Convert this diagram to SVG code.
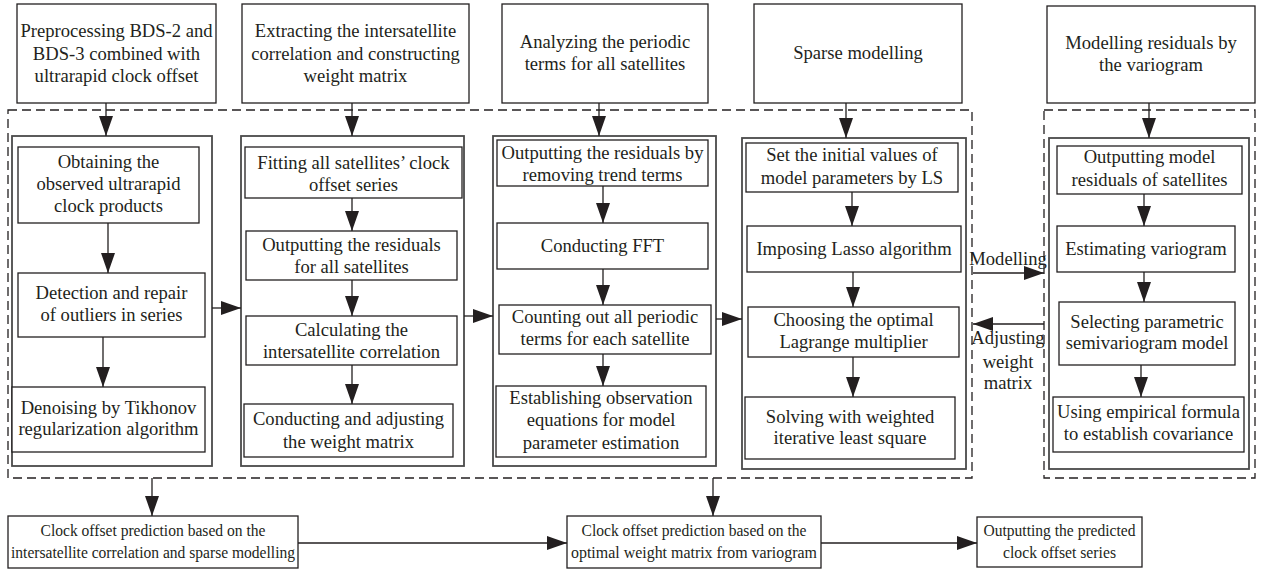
<svg xmlns="http://www.w3.org/2000/svg" width="1261" height="569" viewBox="0 0 1261 569">
<style>
.b{fill:#fff;stroke:#231f20;stroke-width:1.3}
.g{fill:none;stroke:#4a4a4a;stroke-width:1.8}
.d{fill:none;stroke:#231f20;stroke-width:1.3;stroke-dasharray:9,5}
.c{fill:none;stroke:#231f20;stroke-width:1.3;marker-end:url(#ah)}
text{font-family:"Liberation Serif","Times New Roman",serif;font-size:18.6px;fill:#231f20;text-anchor:middle}
text.s{font-size:16.6px}
</style>
<defs>
<marker id="ah" markerUnits="userSpaceOnUse" markerWidth="20" markerHeight="14" refX="20" refY="7" orient="auto">
<path d="M0,0 L20,7 L0,14 z" fill="#231f20"/>
</marker>
</defs>
<rect width="1261" height="569" fill="#fff"/>

<g id="frames">
<rect class="d" x="8" y="110" width="964" height="368"/>
<rect class="d" x="1044" y="110" width="211" height="368"/>
<rect class="g" x="12" y="136" width="200" height="330"/>
<rect class="g" x="241" y="136" width="223" height="330"/>
<rect class="g" x="493" y="136" width="223" height="330"/>
<rect class="g" x="742" y="138" width="224" height="331"/>
<rect class="g" x="1049" y="138" width="200" height="331"/>
</g>

<g id="h1"><rect class="b" x="17" y="4" width="199" height="99"/>
<text x="116.5" y="37">Preprocessing BDS-2 and</text><text x="116.5" y="59.5">BDS-3 combined with</text><text x="116.5" y="82">ultrarapid clock offset</text></g>
<g id="h2"><rect class="b" x="242" y="4" width="227" height="99"/>
<text x="355.5" y="37">Extracting the intersatellite</text><text x="355.5" y="59.5">correlation and constructing</text><text x="355.5" y="82">weight matrix</text></g>
<g id="h3"><rect class="b" x="502" y="4" width="206" height="99"/>
<text x="605" y="48">Analyzing the periodic</text><text x="605" y="70">terms for all satellites</text></g>
<g id="h4"><rect class="b" x="754" y="4" width="208" height="99"/>
<text x="858" y="59">Sparse modelling</text></g>
<g id="h5"><rect class="b" x="1047" y="6" width="208" height="97"/>
<text x="1151" y="49">Modelling residuals by</text><text x="1151" y="71">the variogram</text></g>

<g id="n11"><rect class="b" x="18" y="147" width="181" height="76"/>
<text x="108.5" y="168">Obtaining the</text><text x="108.5" y="190">observed ultrarapid</text><text x="108.5" y="212">clock products</text></g>
<g id="n12"><rect class="b" x="18" y="273" width="187" height="64"/>
<text x="111.5" y="299">Detection and repair</text><text x="111.5" y="321">of outliers in series</text></g>
<g id="n13"><rect class="b" x="12" y="387" width="193" height="65"/>
<text x="108.5" y="414">Denoising by Tikhonov</text><text x="108.5" y="435">regularization algorithm</text></g>

<g id="n21"><rect class="b" x="245" y="147" width="217" height="51"/>
<text x="353.5" y="169">Fitting all satellites’ clock</text><text x="353.5" y="191">offset series</text></g>
<g id="n22"><rect class="b" x="246" y="231" width="211" height="49"/>
<text x="351.5" y="251">Outputting the residuals</text><text x="351.5" y="273">for all satellites</text></g>
<g id="n23"><rect class="b" x="246" y="316" width="211" height="49"/>
<text x="351.5" y="336">Calculating the</text><text x="351.5" y="358">intersatellite correlation</text></g>
<g id="n24"><rect class="b" x="244" y="404" width="209" height="53"/>
<text x="348.5" y="425">Conducting and adjusting</text><text x="348.5" y="448">the weight matrix</text></g>

<g id="n31"><rect class="b" x="497" y="140" width="211" height="46"/>
<text x="602.5" y="159">Outputting the residuals by</text><text x="602.5" y="181">removing trend terms</text></g>
<g id="n32"><rect class="b" x="497" y="223" width="211" height="46"/>
<text x="602.5" y="252">Conducting FFT</text></g>
<g id="n33"><rect class="b" x="499" y="305" width="212" height="49"/>
<text x="605" y="323">Counting out all periodic</text><text x="605" y="345">terms for each satellite</text></g>
<g id="n34"><rect class="b" x="496" y="386" width="210" height="71"/>
<text x="601" y="404">Establishing observation</text><text x="601" y="426">equations for model</text><text x="601" y="449">parameter estimation</text></g>

<g id="n41"><rect class="b" x="746" y="143" width="212" height="49"/>
<text x="852" y="161">Set the initial values of</text><text x="852" y="184">model parameters by LS</text></g>
<g id="n42"><rect class="b" x="747" y="226" width="214" height="46"/>
<text x="854" y="255">Imposing Lasso algorithm</text></g>
<g id="n43"><rect class="b" x="748" y="307" width="211" height="50"/>
<text x="853.5" y="326">Choosing the optimal</text><text x="853.5" y="348">Lagrange multiplier</text></g>
<g id="n44"><rect class="b" x="745" y="397" width="210" height="62"/>
<text x="850" y="423">Solving with weighted</text><text x="850" y="444">iterative least square</text></g>

<g id="n51"><rect class="b" x="1057" y="146" width="185" height="48"/>
<text x="1149.5" y="163">Outputting model</text><text x="1149.5" y="186">residuals of satellites</text></g>
<g id="n52"><rect class="b" x="1057" y="226" width="178" height="46"/>
<text x="1146" y="255">Estimating variogram</text></g>
<g id="n53"><rect class="b" x="1059" y="302" width="176" height="63"/>
<text x="1147" y="328">Selecting parametric</text><text x="1147" y="349">semivariogram model</text></g>
<g id="n54"><rect class="b" x="1053" y="397" width="191" height="55"/>
<text x="1148.5" y="418">Using empirical formula</text><text x="1148.5" y="440">to establish covariance</text></g>

<g id="o1"><rect class="b" x="8" y="516" width="290" height="52"/>
<text class="s" x="153" y="536" textLength="225" lengthAdjust="spacingAndGlyphs">Clock offset prediction based on the</text><text class="s" x="153" y="558" textLength="284" lengthAdjust="spacingAndGlyphs">intersatellite correlation and sparse modelling</text></g>
<g id="o2"><rect class="b" x="567" y="516" width="254" height="52"/>
<text class="s" x="694" y="536" textLength="225" lengthAdjust="spacingAndGlyphs">Clock offset prediction based on the</text><text class="s" x="694" y="558" textLength="246" lengthAdjust="spacingAndGlyphs">optimal weight matrix from variogram</text></g>
<g id="o3"><rect class="b" x="977" y="517" width="165" height="50"/>
<text class="s" x="1059.5" y="536" textLength="152" lengthAdjust="spacingAndGlyphs">Outputting the predicted</text><text class="s" x="1059.5" y="558" textLength="113" lengthAdjust="spacingAndGlyphs">clock offset series</text></g>

<g id="connectors">
<path class="c" d="M106,103 V136"/>
<path class="c" d="M352,103 V136"/>
<path class="c" d="M599,103 V136"/>
<path class="c" d="M846,103 V138"/>
<path class="c" d="M1149,103 V138"/>
<path class="c" d="M108,223 V273"/>
<path class="c" d="M103,337 V387"/>
<path class="c" d="M352,198 V231"/>
<path class="c" d="M352,280 V316"/>
<path class="c" d="M352,365 V404"/>
<path class="c" d="M603,186 V223"/>
<path class="c" d="M603,269 V305"/>
<path class="c" d="M603,354 V386"/>
<path class="c" d="M852,192 V226"/>
<path class="c" d="M853,272 V307"/>
<path class="c" d="M853,357 V397"/>
<path class="c" d="M1144,194 V226"/>
<path class="c" d="M1144,272 V302"/>
<path class="c" d="M1141,365 V397"/>
<path class="c" d="M212,308 H241"/>
<path class="c" d="M464,316 H493"/>
<path class="c" d="M716,319 H742"/>
<path class="c" d="M973,273 H1044"/>
<path class="c" d="M1044,324 H973"/>
<path class="c" d="M152,478 V516"/>
<path class="c" d="M713,478 V516"/>
<path class="c" d="M298,543 H567"/>
<path class="c" d="M821,543 H977"/>
<text x="1008" y="265">Modelling</text>
<text x="1008" y="344">Adjusting</text>
<text x="1008" y="368">weight</text>
<text x="1008" y="389">matrix</text>
</g>
</svg>
